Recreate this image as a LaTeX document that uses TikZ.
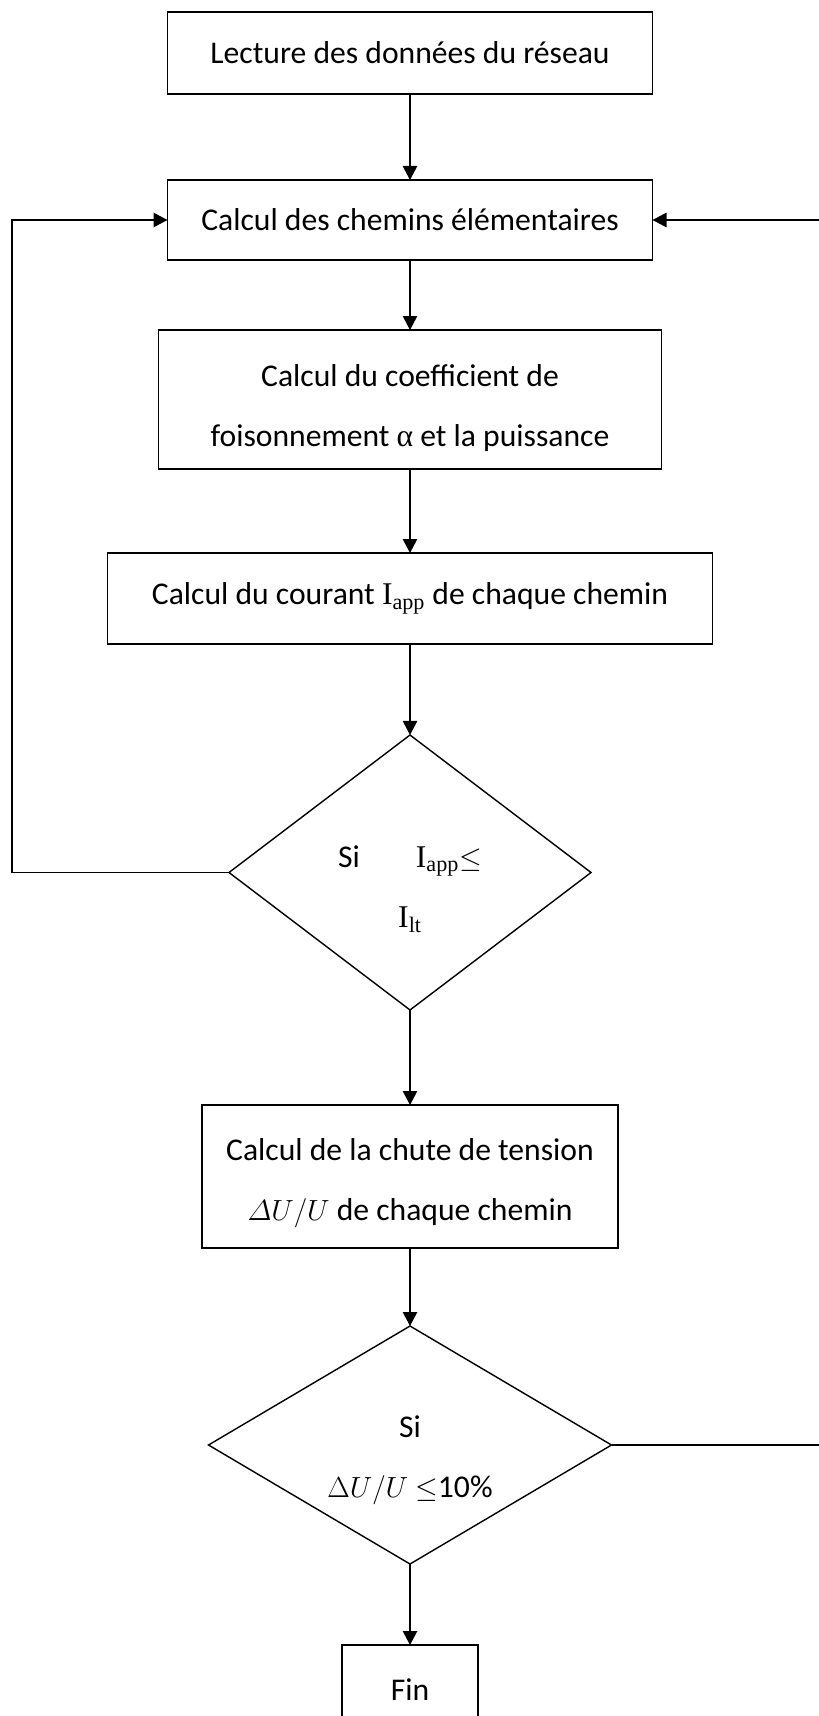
\documentclass[tikz,border=0pt]{standalone}
\usepackage{amsmath}
\usepackage{fontspec}
\setmainfont{Carlito}
\newfontfamily\tmsfont{Liberation Serif}
\usepackage{tikz}
\usetikzlibrary{arrows.meta,positioning,shapes.geometric,calc}
\tikzset{
  fcbox/.style={draw,line width=1pt,align=center,inner sep=0pt,outer sep=0pt},
  fcdecision/.style={draw,diamond,line width=1pt,align=center,inner sep=0pt,outer sep=0pt},
  fcflow/.style={-{Triangle[length=3.5mm,width=3.6mm]},line width=1pt},
}
\newcommand{\Iapp}{{\tmsfont I\textsubscript{app}}}

\begin{document}
\begin{tikzpicture}[font=\fontsize{22.5}{42.7}\selectfont]
\useasboundingbox (0,0) rectangle (204.5mm,-429mm);
  % etapes de calcul
\node[fcbox,minimum width=121.25mm,minimum height=20.5mm] (lect) at (102.5mm,-13.25mm) {Lecture des données du réseau};
\node[fcbox,below=21.5mm of lect,minimum width=121.25mm,minimum height=20mm] (chem) {Calcul des chemins élémentaires};
\node[fcbox,below=17.5mm of chem,minimum width=125.75mm,minimum height=34.75mm] (coef) {\rule{0pt}{1.25em}Calcul du coefficient de\\foisonnement {\tmsfont α} et la puissance};
\node[fcbox,below=21mm of coef,minimum width=151.25mm,minimum height=22.75mm] (cour) {Calcul du courant \Iapp{} de chaque chemin};
\node[fcdecision,aspect=1.32,below=22.75mm of cour,minimum width=90.5mm,minimum height=68.75mm] (test1) {\rule{0pt}{1.75em}Si\hspace{14mm}\Iapp$\leq$\\{\tmsfont I\textsubscript{lt}}};
\node[fcbox,below=23.75mm of test1,minimum width=104mm,minimum height=35.75mm] (chute) {\rule{0pt}{1.1em}Calcul de la chute de tension\\$\varDelta U/U$ de chaque chemin};
\node[fcdecision,aspect=1.69,below=19.5mm of chute,minimum width=100.75mm,minimum height=59.5mm] (test2) {\rule{0pt}{1.65em}Si\\$\Delta U/U$ $\leq$10\%};
\node[fcbox,below=20.25mm of test2,minimum width=34mm,minimum height=22.5mm] (fin) {Fin};
\coordinate (gauche) at (3mm,0);
\coordinate (droite) at (205.5mm,0);
\draw[fcflow] (lect) -- (chem);
\draw[fcflow] (chem) -- (coef);
\draw[fcflow] (coef) -- (cour);
\draw[fcflow] (cour) -- (test1);
\draw[fcflow] (test1) -- (chute);
\draw[fcflow] (chute) -- (test2);
\draw[fcflow] (test2) -- (fin);
  % retours vers le calcul des chemins
\draw[fcflow] (test1.west) -- (test1.west -| gauche) |- (chem.west);
\draw[fcflow] (test2.east) -- (test2.east -| droite) |- (chem.east);
\end{tikzpicture}
\end{document}
